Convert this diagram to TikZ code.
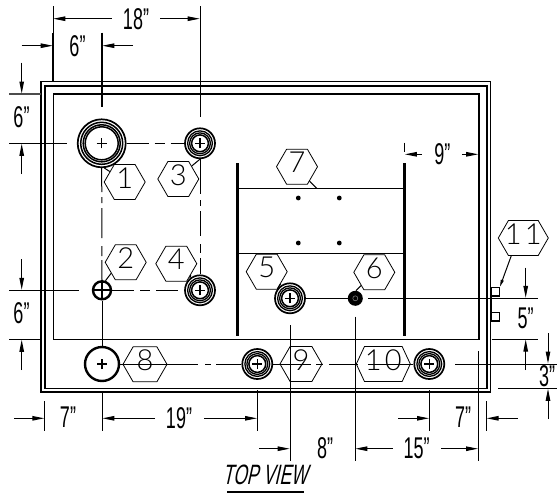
\documentclass[tikz,border=0pt]{standalone}
\usepackage{fontspec}
\usetikzlibrary{arrows.meta,shapes.symbols}
\newfontfamily\dimf{Liberation Sans}[FakeStretch=0.6]
\newfontfamily\viewf{Liberation Sans}[FakeStretch=0.62,FakeSlant=0.22]
\newfontfamily\hexf{Lato Light}
\newcommand{\hx}[1]{\raisebox{-12pt}{\smash{\makebox[0pt]{#1}}}}
\tikzset{
 thinl/.style={line width=1pt,black},
 medl/.style={line width=1.6pt,black},
 thickl/.style={line width=2.9pt,black},
 dimarrow/.style={thinl,-{Stealth[length=12pt,width=4.5pt,inset=0pt]}},
 dimlab/.style={font=\dimf\fontsize{30}{30}\selectfont,inner sep=0pt},
 hexn/.style={draw,line width=0.8pt,shape=signal,signal to=west and east,signal pointer angle=120,
   minimum width=41pt,minimum height=35pt,inner sep=0pt,font=\hexf\fontsize{29}{29}\selectfont,text=black},
 ringn/.style={circle,draw,inner sep=0pt,line width=1.7pt},
 cross/.style={line width=1.1pt},
 center/.style={thinl,dash pattern=on 22pt off 6pt on 10pt off 6pt},
}
\newcommand{\crossat}[2]{\draw[cross] (#1)++(-#2,0) -- ++(2*#2,0) (#1)++(0,-#2) -- ++(0,2*#2);}
\newcommand{\smallring}[1]{\draw[line width=1.3pt] (#1) circle[radius=12.4pt]; \draw[line width=1.3pt] (#1) circle[radius=10.4pt]; \draw[line width=1.5pt] (#1) circle[radius=8.4pt]; \crossat{#1}{5pt}}
\begin{document}
\begin{tikzpicture}[x=1pt,y=-1pt]
\useasboundingbox (0,0) rectangle (557,493);
% enclosure
\draw[line width=1.2pt] (41,81.5) rectangle (490.7,392);
\draw[medl] (44.7,85.7) rectangle (486.7,388.3);
\draw[medl] (53.3,94) rectangle (478.7,339.3);
% internal frame
\draw[thickl] (237.7,163) -- (237.7,335.7);
\draw[thickl] (404.3,163) -- (404.3,335.7);
\draw[medl] (237.7,188.3) -- (404.3,188.3);
\draw[medl] (237.7,253.3) -- (404.3,253.3);
\foreach \px/\py in {298.3/198,339.3/198,298.3/243,339.3/243} \fill (\px,\py) circle[radius=2.4pt];
% equipment
\node[ringn,minimum size=48pt] (c1) at (101.7,143.3) {};
\draw[line width=1.5pt] (c1) circle[radius=21pt];
\draw[line width=1.5pt] (c1) circle[radius=18.5pt];
\draw[line width=1.5pt] (c1) circle[radius=16.5pt];
\crossat{c1}{5pt}
\node[ringn,minimum size=30pt] (c3) at (200,143.3) {};
\smallring{c3}
\node[ringn,minimum size=18pt,line width=2.4pt] (c2) at (102,290.3) {};
\draw[line width=2pt] (93,290.3) -- (111,290.3) (102,281.3) -- (102,299.3);
\node[ringn,minimum size=30pt] (c4) at (200,290.3) {};
\smallring{c4}
\node[ringn,minimum size=34pt,line width=2.4pt] (c8) at (102,364) {};
\crossat{c8}{5pt}
\node[ringn,minimum size=30pt] (c9) at (257.3,364) {};
\smallring{c9}
\node[ringn,minimum size=30pt] (c10) at (429.3,364) {};
\smallring{c10}
\node[ringn,minimum size=30pt] (c5) at (290,298.3) {};
\smallring{c5}
\node[circle,fill=black,inner sep=0pt,minimum size=15pt] (c6) at (355.3,298.3) {};
\draw[black!45,line width=0.5pt] (c6) circle[radius=2.5pt];
\draw[line width=1.6pt] (490.7,287.3) -- (490.7,321);
\node[draw,line width=1.3pt,minimum size=8.6pt,inner sep=0pt] (s1) at (495,291.7) {};
\node[draw,line width=1.3pt,minimum size=8.6pt,inner sep=0pt] (s2) at (495,316.7) {};
% hexagon tags
\node[hexn] (h1) at (124.7,182) {\hx{1}};
\node[hexn] (h3) at (178.3,179) {\hx{3}};
\node[hexn] (h2) at (125.7,262.3) {\hx{2}};
\node[hexn] (h4) at (176.3,263.7) {\hx{4}};
\node[hexn] (h5) at (266.7,271.7) {\hx{5}};
\node[hexn] (h6) at (374.3,272.3) {\hx{6}};
\node[hexn] (h7) at (297,166.7) {\hx{7}};
\node[hexn,minimum width=44pt] (h8) at (145,364.3) {\hx{8}};
\node[hexn,minimum width=42pt] (h9) at (301,364) {\hx{9}};
\node[hexn,minimum width=54pt,signal pointer angle=130] (h10) at (383.3,364) {\hx{1\kern3pt 0}};
\node[hexn,minimum width=50pt] (h11) at (523.3,238) {\hx{1\kern3pt 1}};
% centre lines
\draw[center] (c1.east) -- (c3.west);
\draw[thinl,dash pattern=on 24pt off 5pt on 6pt off 5pt on 30pt off 8pt on 10pt off 4pt on 40pt] (c1.south) -- (c2.north);
\draw[thinl,dash pattern=on 35pt off 6pt on 6pt off 5pt on 25pt off 8pt on 9pt off 5pt on 40pt] (c3.south) -- (c4.north);
\draw[center] (c2.east) -- (c4.west);
\draw[thinl] (c2.south) -- (c8.north);
\draw[thinl,dash pattern=on 78pt off 7pt on 6pt off 5pt on 40pt] (c8.east) -- (c9.west);
\draw[thinl,dash pattern=on 38pt off 5pt on 7pt off 6pt on 29pt off 10pt on 60pt] (c9.east) -- (c10.west);
\draw[thinl] (c5.east) -- (c6.west);
% leaders
\draw[thinl] (c1.-84) -- (h1.145);
\draw[thinl] (c3.south) -- (h3.44);
\draw[thinl] (c2.70) -- (h2.217);
\draw[thinl] (c4.130) -- (h4.-38);
\draw[thinl] (c5.140) -- (h5.-40);
\draw[thinl] (c6.85) -- (h6.225);
\coordinate (l7) at (316.7,188.3);
\draw[thinl] (h7.-49) -- (l7);
\draw[thinl,-{Stealth[length=7pt,width=3pt,inset=0pt]}] (h11.-124) -- (s1.north east);
% 18 in
\draw[thinl] (53,6) -- (53,33);
\draw[medl] (53,33) -- (53,81.5);
\draw[thinl] (200,6) -- (200,116.7);
\draw[dimarrow] (111.7,18.7) -- (53.3,18.7);
\draw[dimarrow] (160,18.7) -- (199.7,18.7);
\node[dimlab] (t18) at (136,19) {18”};
% 6 in top
\draw[medl] (101.7,32.7) -- (101.7,107.3);
\draw[dimarrow] (21.7,45.7) -- (52.7,45.7);
\draw[dimarrow] (133,45.7) -- (102.3,45.7);
\node[dimlab] (t6a) at (77.5,45.7) {6”};
% 6 in left upper
\draw[medl,black!70] (9,94) -- (40.7,94);
\draw[thinl] (9,143.3) -- (66.7,143.3);
\draw[dimarrow] (21.7,62.7) -- (21.7,93.5);
\draw[dimarrow] (21.7,174) -- (21.7,143.8);
\node[dimlab] (t6b) at (21.5,117) {6”};
% 6 in left lower
\draw[thinl] (9,290.3) -- (78.7,290.3);
\draw[thinl] (9,339.3) -- (40.7,339.3);
\draw[dimarrow] (21.7,259) -- (21.7,289.8);
\draw[dimarrow] (21.7,370) -- (21.7,339.8);
\node[dimlab] (t6c) at (21.5,313) {6”};
% bottom row
\draw[thinl] (44.7,401) -- (44.7,430.7);
\draw[thinl] (102,392) -- (102,430.7);
\draw[thinl] (257.3,390) -- (257.3,430.7);
\draw[dimarrow] (14,418.3) -- (44.3,418.3);
\node[dimlab] (t7a) at (68,417.5) {7”};
\draw[dimarrow] (155,418.3) -- (102.4,418.3);
\draw[dimarrow] (204,418.3) -- (257,418.3);
\node[dimlab] (t19) at (179,418) {19”};
\draw[thinl] (429.3,390) -- (429.3,430.7);
\draw[thinl] (478.3,351) -- (478.3,461);
\draw[thinl] (486.3,401) -- (486.3,430.7);
\draw[dimarrow] (398.3,418.3) -- (429,418.3);
\draw[dimarrow] (517.7,418.3) -- (486.6,418.3);
\node[dimlab] (t7b) at (463,417.5) {7”};
% 8 and 15 in
\draw[thinl] (290,325) -- (290,461);
\draw[thinl] (355,316.7) -- (355,461);
\draw[dimarrow] (259.3,448.7) -- (289.7,448.7);
\node[dimlab] (t8) at (325,448) {8”};
\draw[dimarrow] (392.7,448.7) -- (355.3,448.7);
\draw[dimarrow] (441.3,448.7) -- (478,448.7);
\node[dimlab] (t15) at (416.7,448) {15”};
% 9 in
\draw[thinl] (404.3,142.7) -- (404.3,152.3);
\draw[dimarrow] (421.7,154.3) -- (404.8,154.3);
\draw[dimarrow] (462.3,154.3) -- (478.2,154.3);
\node[dimlab] (t9) at (442.3,154) {9”};
% right
\draw[thinl] (368.3,298.3) -- (538.3,298.3);
\draw[thinl] (491.7,339) -- (538.3,339);
\draw[dimarrow] (525.7,267.7) -- (525.7,297.8);
\draw[dimarrow] (525.7,370) -- (525.7,339.5);
\node[dimlab] (t5) at (525.7,318.3) {5”};
\draw[thinl] (455.3,364) -- (557,364);
\draw[thinl] (498.3,388.3) -- (557,388.3);
\draw[dimarrow] (548,333.3) -- (548,363.5);
\draw[dimarrow] (548,419) -- (548,388.8);
\node[dimlab] (t3) at (547,376) {3”};
% title
\node[font=\viewf\fontsize{28}{28}\selectfont,inner sep=0pt] (title) at (265,475) {TOP VIEW};
\draw[line width=1.8pt] (227,491.7) -- (304,491.7);
\end{tikzpicture}
\end{document}
